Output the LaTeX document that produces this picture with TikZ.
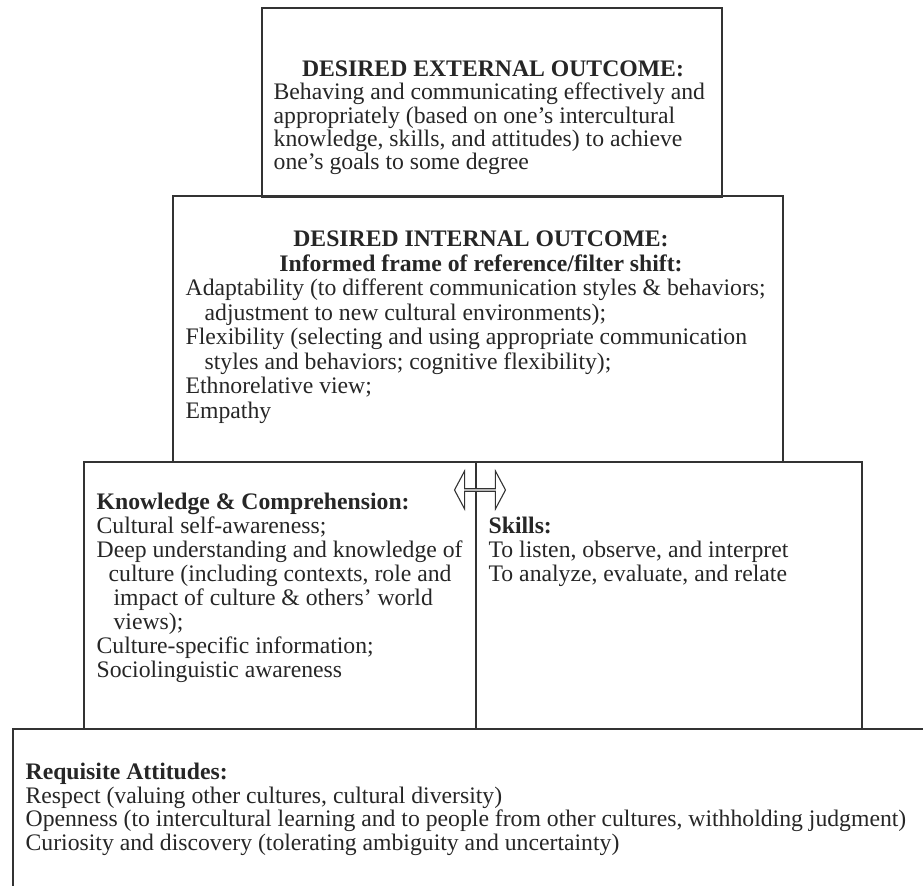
\documentclass[tikz,border=0pt]{standalone}
\usepackage{fontspec}
\setmainfont{Liberation Serif}
\usetikzlibrary{shapes.arrows}

\begin{document}
\begin{tikzpicture}[x=0.5pt, y=-0.5pt, line width=0.65pt,
    box/.style={draw=black!80, outer sep=0pt, inner sep=0pt, anchor=north west},
    txt/.style={inner sep=0pt, text=black!85, font=\fontsize{11.85}{#1}\selectfont},
    txt/.default=12pt,
    twoway/.style={double arrow, draw=black!80, fill=white, line width=0.55pt, inner sep=0pt,
        minimum height=25.5pt, minimum width=19pt, double arrow head extend=4pt,
        double arrow tip angle=124}]
    \useasboundingbox (0,0) rectangle (923,886);
    \clip (0,0) rectangle (923,886);

    % the stacked boxes
    \node [box, minimum width=230pt, minimum height=94.5pt] (ext) at (262,8) {};
    \node [box, minimum width=305pt, minimum height=133pt] (int) at (173,196) {};
    \node [box, minimum width=196pt, minimum height=133.5pt] (know) at (84,462) {};
    \node [box, minimum width=193pt, minimum height=133.5pt] (skill) at (476,462) {};
    \node [box, minimum width=463.5pt, minimum height=85.5pt] (att) at (13,729) {};

    % external outcome
    \node [txt, anchor=base] (exthead) at (493,77) {\textbf{DESIRED EXTERNAL OUTCOME:}};
    \node [txt=11.25pt, anchor=base west] (exttext) at (273,100) {\begin{tabular}[t]{@{}l@{}}
        Behaving and communicating effectively and\\
        appropriately (based on one’s intercultural\\
        knowledge, skills, and attitudes) to achieve\\
        one’s goals to some degree\end{tabular}};

    % internal outcome
    \node [txt=12.25pt, anchor=base] (inthead) at (481,247) {\begin{tabular}[t]{@{}c@{}}
        \textbf{DESIRED INTERNAL OUTCOME:}\\
        \textbf{Informed frame of reference/filter shift:}\end{tabular}};
    \node [txt=12.25pt, anchor=base west] (inttext) at (185,296) {\begin{tabular}[t]{@{}l@{}}
        Adaptability (to different communication styles \& behaviors;\\
        \hspace*{9.5pt}adjustment to new cultural environments);\\
        Flexibility (selecting and using appropriate communication\\
        \hspace*{9.5pt}styles and behaviors; cognitive flexibility);\\
        Ethnorelative view;\\
        Empathy\end{tabular}};

    % knowledge and skills
    \node [txt, anchor=base west] (knowtext) at (96,510) {\begin{tabular}[t]{@{}l@{}}
        \textbf{Knowledge \& Comprehension:}\\
        Cultural self-awareness;\\
        Deep understanding and knowledge of\\
        \hspace*{6pt}culture (including contexts, role and\\
        \hspace*{8.5pt}impact of culture \& others’ world\\
        \hspace*{8.5pt}views);\\
        Culture-specific information;\\
        Sociolinguistic awareness\end{tabular}};
    \node [txt, anchor=base west] (skilltext) at (488,534) {\begin{tabular}[t]{@{}l@{}}
        \textbf{Skills:}\\
        To listen, observe, and interpret\\
        To analyze, evaluate, and relate\end{tabular}};
    \node [twoway] (arr) at (480,490) {};

    % attitudes
    \node [txt=11.5pt, anchor=base west] (atttext) at (25,780) {\begin{tabular}[t]{@{}l@{}}
        \textbf{Requisite Attitudes:}\\
        Respect (valuing other cultures, cultural diversity)\\
        Openness (to intercultural learning and to people from other cultures, withholding judgment)\\
        Curiosity and discovery (tolerating ambiguity and uncertainty)\end{tabular}};
\end{tikzpicture}
\end{document}
